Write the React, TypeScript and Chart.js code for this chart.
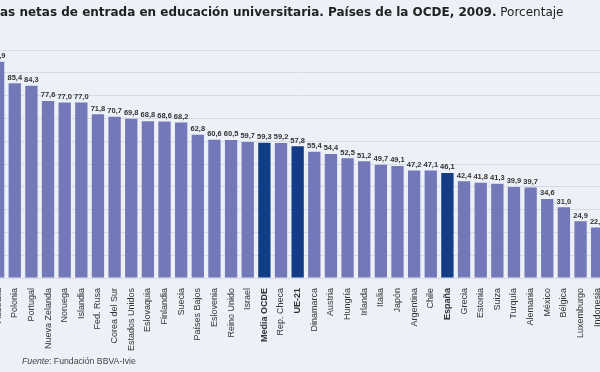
import React, { useEffect, useRef } from "react";
import { Chart, registerables } from "chart.js";

Chart.register(...registerables);

const categories = [
  "Australia", "Polonia", "Portugal", "Nueva Zelanda", "Noruega", "Islandia", "Fed. Rusa",
  "Corea del Sur", "Estados Unidos", "Eslovaquia", "Finlandia", "Suecia", "Países Bajos",
  "Eslovenia", "Reino Unido", "Israel", "Media OCDE", "Rep. Checa", "UE-21", "Dinamarca",
  "Austria", "Hungría", "Irlanda", "Italia", "Japón", "Argentina", "Chile", "España",
  "Grecia", "Estonia", "Suiza", "Turquía", "Alemania", "México", "Bélgica", "Luxemburgo",
  "Indonesia",
];

const values = [
  94.9, 85.4, 84.3, 77.6, 77.0, 77.0, 71.8, 70.7, 69.8, 68.8, 68.6, 68.2, 62.8,
  60.6, 60.5, 59.7, 59.3, 59.2, 57.8, 55.4, 54.4, 52.5, 51.2, 49.7, 49.1, 47.2,
  47.1, 46.1, 42.4, 41.8, 41.3, 39.9, 39.7, 34.6, 31.0, 24.9, 22.2,
];

const highlighted = ["Media OCDE", "UE-21", "España"];

const LIGHT = "#7378b8";
const DARK = "#123c85";

const valueLabels = {
  id: "valueLabels",
  afterDatasetsDraw(chart: any) {
    const ctx = chart.ctx;
    const meta = chart.getDatasetMeta(0);
    ctx.save();
    ctx.font = "bold 7.5px 'Liberation Sans', Arial, sans-serif";
    ctx.fillStyle = "#333333";
    ctx.textAlign = "center";
    ctx.textBaseline = "bottom";
    meta.data.forEach((bar: any, i: number) => {
      const v = values[i];
      ctx.fillText(v.toFixed(1).replace(".", ","), bar.x, bar.y - 2);
    });
    ctx.restore();
  },
};

export default function App() {
  const ref = useRef<HTMLCanvasElement | null>(null);

  useEffect(() => {
    document.body.style.margin = "0";
    if (!ref.current) return;
    const chart = new Chart(ref.current, {
      type: "bar",
      data: {
        labels: categories,
        datasets: [
          {
            data: values,
            backgroundColor: categories.map((c) => (highlighted.includes(c) ? DARK : LIGHT)),
            borderWidth: 0,
            categoryPercentage: 1,
            barPercentage: 0.74,
          },
        ],
      },
      options: {
        responsive: false,
        animation: false,
        devicePixelRatio: 1,
        layout: { padding: { left: 9.8, right: 14.5, top: 50, bottom: 0 } },
        plugins: { legend: { display: false }, tooltip: { enabled: false }, title: { display: false } },
        scales: {
          x: {
            grid: { display: false },
            border: { display: false },
            ticks: {
              autoSkip: false,
              maxRotation: 90,
              minRotation: 90,
              padding: 2,
              color: "#333333",
              font: (ctx: any) => ({
                family: "'Liberation Sans', Arial, sans-serif",
                size: 9,
                weight: highlighted.includes(categories[ctx.index]) ? "bold" : "normal",
              }),
            },
            afterFit: (scale: any) => {
              scale.height = 94;
            },
          },
          y: {
            min: 0,
            max: 100,
            ticks: { display: false, stepSize: 10 },
            grid: { color: "#d5dae4", lineWidth: 1, drawTicks: false },
            border: { display: false },
            afterFit: (scale: any) => {
              scale.width = 0;
            },
          },
        },
      },
      plugins: [valueLabels],
    });
    return () => chart.destroy();
  }, []);

  return (
    <div
      style={{
        position: "relative",
        width: 600,
        height: 372,
        overflow: "hidden",
        background: "#ecf0f7",
      }}
    >
      <canvas
        ref={ref}
        width={640}
        height={372}
        style={{ position: "absolute", left: -20, top: 0, display: "block" }}
      />
      <div
        style={{
          position: "absolute",
          left: 0,
          top: 4,
          whiteSpace: "nowrap",
          fontFamily: "'DejaVu Sans', Verdana, sans-serif",
          fontSize: 12,
          color: "#222222",
          lineHeight: "16px",
        }}
      >
        <b>as netas de entrada en educación universitaria. Países de la OCDE, 2009.</b> Porcentaje
      </div>
      <div
        style={{
          position: "absolute",
          left: 22,
          top: 355,
          whiteSpace: "nowrap",
          fontFamily: "'Liberation Sans', Arial, sans-serif",
          fontSize: 8.7,
          color: "#444444",
          lineHeight: "12px",
        }}
      >
        <i>Fuente</i>: Fundación BBVA-Ivie
      </div>
    </div>
  );
}
